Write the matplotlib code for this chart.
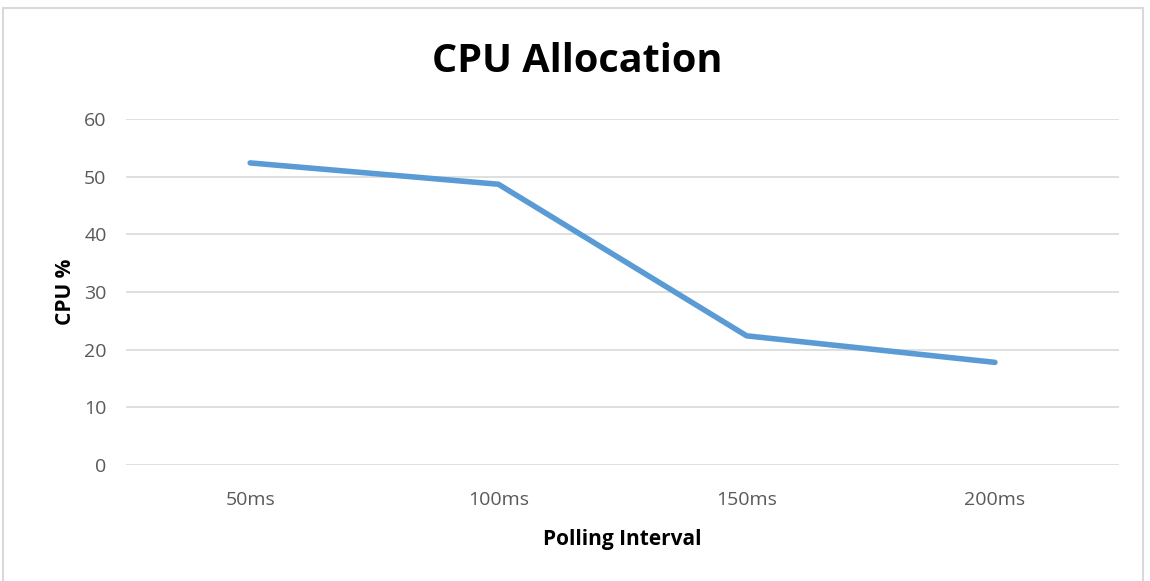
import matplotlib.pyplot as plt
from matplotlib.patches import Rectangle

intervals = ["50ms", "100ms", "150ms", "200ms"]
cpu = [52.4, 48.7, 22.4, 17.8]
yticks = [0, 10, 20, 30, 40, 50, 60]

plt.rcParams['font.family'] = ['Open Sans', 'DejaVu Sans']

fig = plt.figure(figsize=(11.5, 5.81), dpi=100)
ax = fig.add_axes([0.1096, 0.1997, 0.8635, 0.5953])

# outer chart border
fig.patches.append(Rectangle((3 / 1150, -0.05), 1140 / 1150, 1 - 8 / 581 + 0.05,
                             transform=fig.transFigure, fill=False,
                             edgecolor='#d9d9d9', linewidth=1.5))

x = range(len(intervals))
ax.plot(x, cpu, color='#5b9bd5', linewidth=4, solid_capstyle='round',
        solid_joinstyle='round', zorder=3)

ax.set_xlim(-0.5, len(intervals) - 0.5)
ax.set_ylim(0, 60)
ax.set_yticks(yticks)
ax.set_xticks(list(x))
ax.set_xticklabels(intervals)
ax.grid(axis='y', color='#d9d9d9', linewidth=1.2)
ax.set_axisbelow(True)
for s in ax.spines.values():
    s.set_visible(False)
ax.tick_params(length=0, labelsize=14, labelcolor='#595959')
ax.tick_params(axis='y', pad=14)
ax.tick_params(axis='x', pad=19)

fig.text(0.5017, 0.895, "CPU Allocation", fontsize=28.5, fontweight='bold',
         ha='center', va='center')
ax.set_xlabel("Polling Interval", fontsize=15, fontweight='bold', labelpad=14)
ax.set_ylabel("CPU %", fontsize=15, fontweight='bold', labelpad=6)

plt.savefig("out.png", dpi=100)
